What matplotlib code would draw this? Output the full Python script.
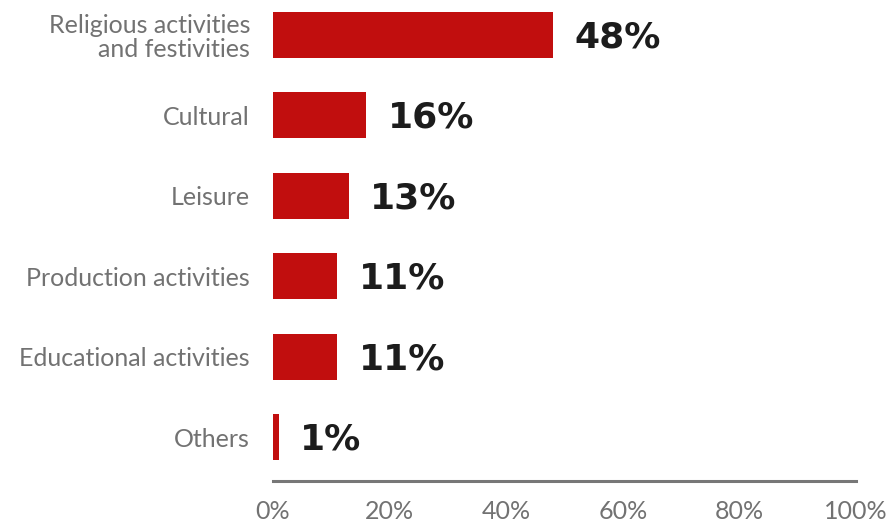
import numpy as np
import matplotlib.pyplot as plt

categories = ['Religious activities\nand festivities', 'Cultural', 'Leisure',
              'Production activities', 'Educational activities', 'Others']
values = [48, 16, 13, 11, 11, 1]
ticks = [0, 20, 40, 60, 80, 100]

red = '#c10e0e'
gray = '#727272'

fig = plt.figure(figsize=(8.94, 5.24), dpi=100)
ax = fig.add_axes([0.3054, 0.082, 0.652, 0.918])

y = np.arange(len(categories))
ax.barh(y, values, height=0.572, color=red)
for yi, v in zip(y, values):
    ax.text(v + 3.7, yi + 0.03, f'{v}%', va='center', ha='left', fontsize=26,
            fontweight='bold', family='DejaVu Sans', color='#1c1c1c')

ax.set_xlim(0, 100)
ax.set_ylim(5.547, -0.435)
ax.set_yticks(y)
ax.set_yticklabels(categories, family='Lato', fontsize=18, color=gray,
                   linespacing=1.05)
ax.set_xticks(ticks)
ax.set_xticklabels([f'{t}%' for t in ticks], family='Lato', fontsize=18,
                   color=gray)
ax.tick_params(axis='both', length=0)
ax.tick_params(axis='y', pad=16.5)
ax.tick_params(axis='x', pad=14)

for s in ['top', 'right', 'left']:
    ax.spines[s].set_visible(False)
ax.spines['bottom'].set_color('#777777')
ax.spines['bottom'].set_linewidth(2.2)

fig.savefig('out.png', dpi=100)
